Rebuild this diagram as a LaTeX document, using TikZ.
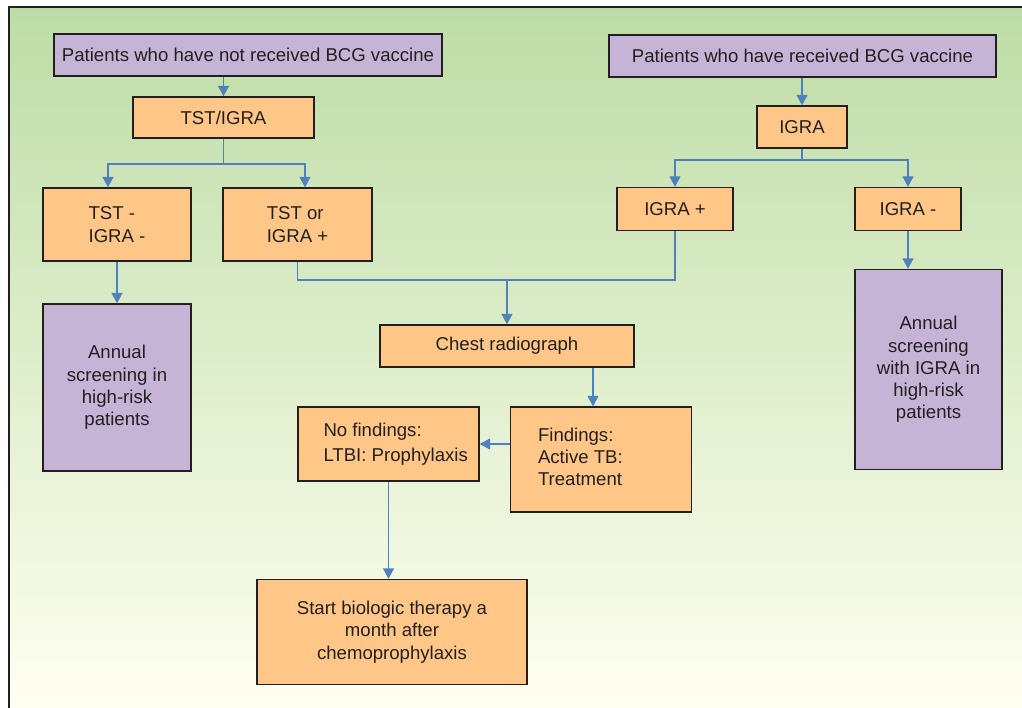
\documentclass[tikz,border=0pt]{standalone}
\usepackage{fontspec}
\setmainfont{Liberation Sans}
\usetikzlibrary{positioning, arrows.meta}

\definecolor{boxorange}{RGB}{255,199,135}
\definecolor{boxpurple}{RGB}{197,180,214}
\definecolor{linkblue}{RGB}{79,129,189}
\definecolor{edgegray}{RGB}{35,31,32}
\definecolor{bgtop}{RGB}{189,220,165}
\definecolor{bgbottom}{RGB}{255,255,242}

\tikzset{
    stepbox/.style={draw=edgegray, line width=1.4pt, fill=boxorange, text=edgegray, inner sep=0pt, align=center},
    endbox/.style={stepbox, fill=boxpurple},
    boxtext/.style={anchor=west, align=left, inner sep=0pt, text=edgegray},
    link/.style={draw=linkblue, line width=1.4pt},
    arr/.style={link, -{Triangle[width=11pt,length=10.5pt]}}
}

\begin{document}
\begin{tikzpicture}[x=1pt, y=-1pt, font=\fontsize{18.6}{22.3}\selectfont]
    \useasboundingbox (0,0) rectangle (1022,708);
    \fill[white] (0,0) rectangle (1022,708);
    \shade[top color=bgtop, bottom color=bgbottom] (9,7) rectangle (1022,708);
    \draw[edgegray, line width=1.5pt] (9,708) -- (9,7) -- (1022,7);

    % no BCG side
    \node[endbox, minimum width=388, minimum height=42] (nobcg) at (248,55) {Patients who have not received BCG vaccine};
    \node[stepbox, minimum width=181, minimum height=41] (tstigra) at (223.5,117.5) {TST/IGRA};
    \node[stepbox, minimum width=148, minimum height=73, align=left] (tstneg) at (117,224.5) {TST -\\IGRA -};
    \node[stepbox, minimum width=149, minimum height=73, align=left] (tstpos) at (297.5,224.5) {TST or\\IGRA +};
    \node[endbox, minimum width=148, minimum height=167] (annuall) at (117,387.5) {Annual\\screening in\\high-risk\\patients};

    % BCG side
    \node[endbox, minimum width=387, minimum height=42] (bcg) at (802.5,56) {Patients who have received BCG vaccine};
    \node[stepbox, minimum width=90, minimum height=42] (igra) at (802,127) {IGRA};
    \node[stepbox, minimum width=116, minimum height=43] (igrapos) at (675,209) {IGRA +};
    \node[stepbox, minimum width=106, minimum height=43] (igraneg) at (908,209) {IGRA -};
    \node[endbox, minimum width=147, minimum height=200] (annualr) at (928.5,369.5) {Annual\\screening\\with IGRA in\\high-risk\\patients};

    % common part
    \node[stepbox, minimum width=254, minimum height=42] (chest) at (507,346) {Chest radiograph};
    \node[stepbox, minimum width=181, minimum height=105] (findings) at (601,459.5) {};
    \node[boxtext] (findtext) at ([xshift=28, yshift=2.5]findings.west) {Findings:\\Active TB:\\Treatment};
    \node[stepbox, minimum width=181, minimum height=74] (nofind) at (388.5,444) {};
    \node[boxtext] (nofindtext) at ([xshift=26]nofind.west) {No findings:\\[2.4pt]LTBI: Prophylaxis};
    \node[stepbox, minimum width=270, minimum height=105] (start) at (392,632) {Start biologic therapy a\\month after\\chemoprophylaxis};

    % connectors
    \coordinate (lsplit) at (223.5,164);
    \coordinate (rsplit) at (802,160);
    \coordinate (merge) at (507,280);
    \coordinate (findin) at ([xshift=-8]findings.north);

    \draw[arr] (nobcg.south -| tstigra.north) -- (tstigra.north);
    \draw[link] (tstigra.south) -- (lsplit);
    \draw[arr] (lsplit) -| ([xshift=-9]tstneg.north);
    \draw[arr] (lsplit) -| ([xshift=7.5]tstpos.north);
    \draw[arr] (tstneg.south) -- (annuall.north);

    \draw[arr] (bcg.south -| igra.north) -- (igra.north);
    \draw[link] (igra.south) -- (rsplit);
    \draw[arr] (rsplit) -| (igrapos.north);
    \draw[arr] (rsplit) -| (igraneg.north);
    \draw[arr] (igraneg.south) -- (igraneg.south |- annualr.north);

    \draw[link] (tstpos.south) |- (merge) -| (igrapos.south);
    \draw[arr] (merge) -- (chest.north);
    \draw[arr] (chest.south -| findin) -- (findin);
    \draw[arr] (findings.west |- nofind.east) -- (nofind.east);
    \draw[arr] (nofind.south) -- (nofind.south |- start.north);
\end{tikzpicture}
\end{document}
